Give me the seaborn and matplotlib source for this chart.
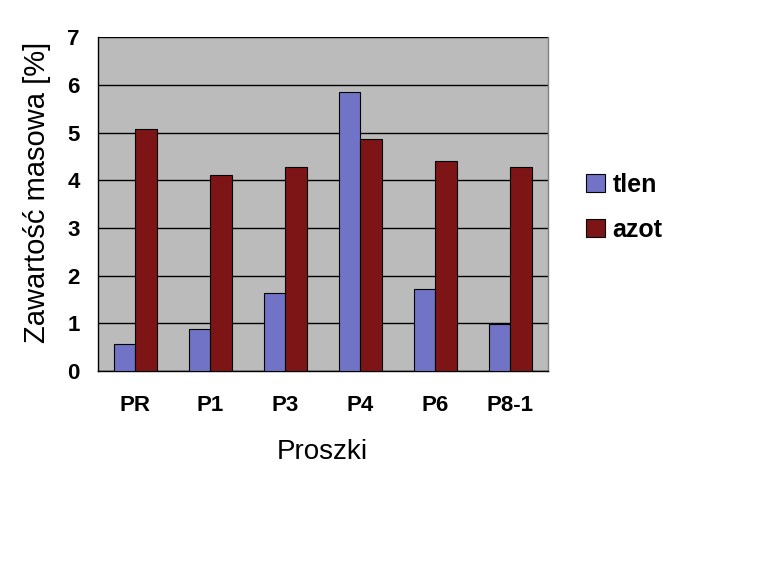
# %%
# Zawartość masowa tlenu i azotu w proszkach - wykres słupkowy
import pandas as pd
import numpy as np
import matplotlib
matplotlib.use("Agg")
import matplotlib.pyplot as plt
import seaborn as sns

# %%
proszki = ["PR", "P1", "P3", "P4", "P6", "P8-1"]
tlen = [0.57, 0.89, 1.64, 5.86, 1.73, 0.99]
azot = [5.07, 4.10, 4.27, 4.86, 4.41, 4.27]
serie = ["tlen", "azot"]
kolory = ["#7073C6", "#7D1517"]

df = pd.DataFrame({
    "Proszki": proszki * 2,
    "seria": ["tlen"] * len(proszki) + ["azot"] * len(proszki),
    "wartosc": tlen + azot,
})

# %%
sns.set_style("white")
plt.rcParams["font.family"] = ["Liberation Sans", "DejaVu Sans"]
plt.rcParams["text.color"] = "black"
plt.rcParams["axes.labelcolor"] = "black"
plt.rcParams["xtick.color"] = "black"
plt.rcParams["ytick.color"] = "black"

fig = plt.figure(figsize=(7.64, 5.63), dpi=100)
ax = fig.add_axes([0.128, 0.341, 0.589, 0.593])
ax.set_facecolor("#BBBBBB")

sns.barplot(
    data=df, x="Proszki", y="wartosc", hue="seria",
    hue_order=serie, order=proszki, palette=kolory, saturation=1,
    width=0.57, edgecolor="black", linewidth=0.8,
    ax=ax, zorder=3,
)

ax.set_ylim(0, 7)
ax.set_xlim(-0.5, len(proszki) - 0.5)
ax.set_yticks(range(0, 8))
ax.yaxis.grid(True, color="black", linewidth=1.0, zorder=0)
ax.set_axisbelow(True)

# linie podziału kategorii na osi X
ax.set_xticks(np.arange(-0.5, len(proszki), 1.0), minor=True)
ax.tick_params(axis="x", which="major", length=0, pad=17, labelsize=16)
ax.tick_params(axis="x", which="minor", length=6, width=1, color="black", direction="out")
ax.tick_params(axis="y", length=5, width=1, color="black", direction="out", pad=8, labelsize=16)
for lab in ax.get_xticklabels() + ax.get_yticklabels():
    lab.set_fontweight("bold")

for s in ["left", "bottom"]:
    ax.spines[s].set_color("black")
    ax.spines[s].set_linewidth(1.0)
ax.spines["top"].set_visible(False)
ax.spines["right"].set_color("#808080")
ax.spines["right"].set_linewidth(1.0)

ax.set_xlabel("Proszki", fontsize=20, labelpad=17)
ax.set_ylabel("Zawartość masowa [%]", fontsize=21)
ax.yaxis.set_label_coords(-0.105, 0.535)

ax.legend(
    loc="center left", bbox_to_anchor=(1.035, 0.49), frameon=False,
    prop={"size": 18, "weight": "bold"}, handlelength=0.75, handleheight=0.75,
    handletextpad=0.3, labelspacing=0.85,
)

plt.savefig("out.png", dpi=100)
